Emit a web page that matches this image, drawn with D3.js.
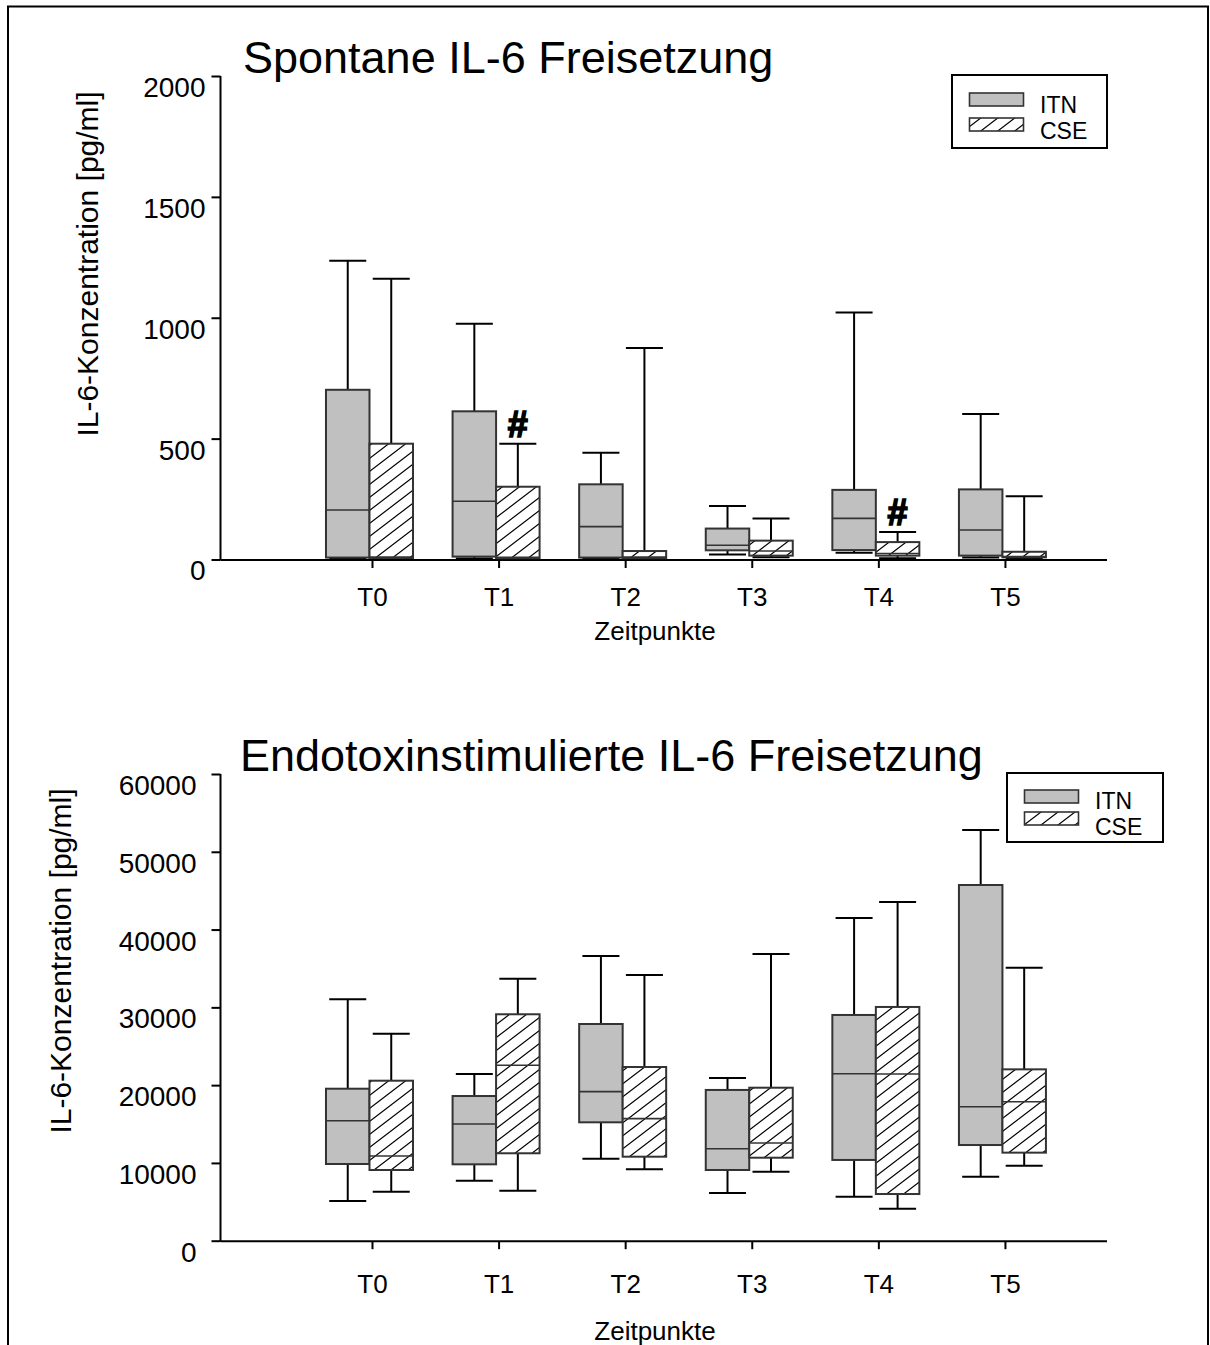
<!DOCTYPE html>
<html>
<head>
<meta charset="utf-8">
<script src="https://cdn.jsdelivr.net/npm/d3@7"></script>
<style>
  html, body { margin: 0; padding: 0; background: #fff; }
  svg text { font-family: "Liberation Sans", Arial, sans-serif; fill: #000; }
</style>
</head>
<body>
<svg id="chart" width="1210" height="1345"></svg>
<script>
// ---------------- data ----------------
const categories = ["T0", "T1", "T2", "T3", "T4", "T5"];
const seriesNames = ["ITN", "CSE"];

// each entry: [lower whisker, Q1, median, Q3, upper whisker]
const spontanITN = [
  [3, 8, 205, 702, 1236],
  [4, 12, 241, 613, 975],
  [4, 8, 136, 311, 442],
  [21, 38, 59, 128, 221],
  [28, 39, 170, 288, 1022],
  [8, 16, 122, 290, 602]
];
const spontanCSE = [
  [3, 6, 10, 479, 1161],
  [3, 5, 9, 301, 479],
  [3, 5, 10, 35, 875],
  [9, 16, 35, 78, 170],
  [5, 16, 25, 72, 114],
  [4, 9, 12, 32, 262]
];
const spontanMarks = ["", "#", "", "", "#", ""];
const spontanTicks = [0, 500, 1000, 1500, 2000];

const endoITN = [
  [5100, 9860, 15430, 19540, 31040],
  [7710, 9820, 15000, 18600, 21430],
  [10550, 15220, 19160, 27860, 36600],
  [6130, 9090, 11830, 19380, 20920],
  [5660, 10380, 21470, 29020, 41490],
  [8230, 12300, 17230, 45730, 52810]
];
const endoCSE = [
  [6300, 9090, 10890, 20570, 26610],
  [6430, 11240, 22550, 29110, 33680],
  [9180, 10800, 15690, 22330, 34160],
  [8870, 10670, 12560, 19670, 36860],
  [4120, 6000, 21430, 30050, 43550],
  [9650, 11320, 17870, 22030, 35100]
];
const endoMarks = ["", "", "", "", "", ""];
const endoTicks = [0, 10000, 20000, 30000, 40000, 50000, 60000];

const titles = ["Spontane IL-6 Freisetzung", "Endotoxinstimulierte IL-6 Freisetzung"];
const yTitle = "IL-6-Konzentration [pg/ml]";
const xTitle = "Zeitpunkte";

// ---------------- drawing ----------------
const svg = d3.select("#chart");
const FONT = '"Liberation Sans", Arial, sans-serif';

// hatch pattern
const defs = svg.append("defs");
const pat = defs.append("pattern")
  .attr("id", "hatch")
  .attr("patternUnits", "userSpaceOnUse")
  .attr("width", 17).attr("height", 13);
pat.append("rect").attr("width", 17).attr("height", 13).attr("fill", "#fff");
pat.append("path")
  .attr("d", "M0,13 L17,0 M-17,13 L0,0 M17,13 L34,0 M0,26 L17,13 M0,0 L17,-13")
  .attr("stroke", "#000").attr("stroke-width", 1.2).attr("fill", "none");

// outer frame
svg.append("rect")
  .attr("x", 8).attr("y", 6.5).attr("width", 1200).attr("height", 1400)
  .attr("fill", "none").attr("stroke", "#000").attr("stroke-width", 2);

const ITN_FILL = "#c0c0c0";
const BOX_STROKE = "#333";

function drawPanel(cfg) {
  const g = svg.append("g");
  const x = d3.scaleLinear().domain([-1.173, 5.826]).range([221, 1107]);
  const y = d3.scaleLinear().domain([0, cfg.yMax]).range([cfg.yBottom, cfg.yTop]);
  const step = x(1) - x(0);
  const bw = 43.5 / step;      // box width in domain units
  const capW = 37 / step;      // whisker cap width

  // title
  g.append("text")
    .attr("x", cfg.titleX).attr("y", cfg.titleY)
    .style("font-size", "45px")
    .text(cfg.title);

  // y axis
  const yAxis = d3.axisLeft(y).tickValues(cfg.ticks).tickSize(9).tickSizeOuter(0).tickPadding(cfg.tickPad)
    .tickFormat(d3.format("d"));
  const ya = g.append("g").attr("transform", "translate(220.5,0)").call(yAxis);
  ya.select(".domain").attr("stroke-width", 2).attr("d", `M0,${cfg.yBottom + 1}V${cfg.yTop}`);
  ya.selectAll(".tick line").attr("stroke-width", 2);
  ya.selectAll(".tick text")
    .attr("dy", "0.73em")
    .style("font-size", "28px").style("font-family", FONT);

  // x axis
  const xAxis = d3.axisBottom(x).tickValues(d3.range(categories.length)).tickSize(8).tickSizeOuter(0)
    .tickFormat(i => categories[i]);
  const xa = g.append("g").attr("transform", `translate(2.5,${cfg.yBottom + 0.5})`).call(xAxis);
  xa.select(".domain").attr("stroke-width", 2).attr("d", `M${221 - 2.5},0H${1107 - 2.5}`);
  xa.selectAll(".tick line").attr("stroke-width", 2);
  xa.selectAll(".tick text")
    .attr("y", cfg.xLabelDy).attr("dy", "0")
    .style("font-size", "26px").style("font-family", FONT);

  // axis titles
  g.append("text")
    .attr("transform", `translate(${cfg.yTitleX},${cfg.yTitleY}) rotate(-90)`)
    .attr("text-anchor", "middle")
    .style("font-size", "30px")
    .text(yTitle);
  g.append("text")
    .attr("x", 655).attr("y", cfg.xTitleY)
    .attr("text-anchor", "middle")
    .style("font-size", "26px")
    .text(xTitle);

  // boxes
  const series = [
    { name: seriesNames[0], data: cfg.itn, off: -bw, fill: ITN_FILL },
    { name: seriesNames[1], data: cfg.cse, off: 0, fill: "url(#hatch)" }
  ];
  series.forEach(s => {
    const sg = g.append("g");
    s.data.forEach((d, i) => {
      const [lo, q1, med, q3, hi] = d;
      const x0 = x(i + s.off), x1 = x(i + s.off + bw);
      const xc = x(i + s.off + bw / 2);
      // whiskers
      sg.append("line").attr("x1", xc).attr("x2", xc).attr("y1", y(q3)).attr("y2", y(hi))
        .attr("stroke", "#000").attr("stroke-width", 2);
      sg.append("line").attr("x1", xc).attr("x2", xc).attr("y1", y(q1)).attr("y2", y(lo))
        .attr("stroke", "#000").attr("stroke-width", 2);
      sg.append("line").attr("x1", x(i + s.off + bw / 2 - capW / 2)).attr("x2", x(i + s.off + bw / 2 + capW / 2))
        .attr("y1", y(hi)).attr("y2", y(hi)).attr("stroke", "#000").attr("stroke-width", 2);
      sg.append("line").attr("x1", x(i + s.off + bw / 2 - capW / 2)).attr("x2", x(i + s.off + bw / 2 + capW / 2))
        .attr("y1", y(lo)).attr("y2", y(lo)).attr("stroke", "#000").attr("stroke-width", 2);
      // box
      sg.append("rect")
        .attr("x", x0).attr("y", y(q3)).attr("width", x1 - x0).attr("height", y(q1) - y(q3))
        .attr("fill", s.fill).attr("stroke", BOX_STROKE).attr("stroke-width", 2);
      // median
      sg.append("line").attr("x1", x0).attr("x2", x1).attr("y1", y(med)).attr("y2", y(med))
        .attr("stroke", BOX_STROKE).attr("stroke-width", 1.6);
    });
  });

  // significance marks
  cfg.marks.forEach((m, i) => {
    if (!m) return;
    g.append("text")
      .attr("x", x(i + bw / 2)).attr("y", y(cfg.cse[i][4]) - 7)
      .attr("text-anchor", "middle")
      .style("font-size", "36px").style("font-weight", "bold")
      .style("stroke", "#000").style("stroke-width", "1.6px")
      .text(m);
  });

  // legend
  const L = cfg.legend;
  const lg = g.append("g").attr("transform", `translate(${L.x},${L.y})`);
  lg.append("rect").attr("x", 0).attr("y", 0).attr("width", L.w).attr("height", L.h)
    .attr("fill", "#fff").attr("stroke", "#000").attr("stroke-width", 2);
  [ITN_FILL, "url(#hatch)"].forEach((f, k) => {
    lg.append("rect").attr("x", 17.5).attr("y", L.sw[k]).attr("width", 54).attr("height", 13)
      .attr("fill", f).attr("stroke", BOX_STROKE).attr("stroke-width", 1.6);
    lg.append("text").attr("x", 88).attr("y", L.ty[k])
      .style("font-size", "23px").text(seriesNames[k]);
  });
}

drawPanel({
  title: titles[0], titleX: 243, titleY: 73,
  yMax: 2000, yTop: 76, yBottom: 559.5, ticks: spontanTicks, tickPad: 6,
  itn: spontanITN, cse: spontanCSE, marks: spontanMarks,
  xLabelDy: 46, xTitleY: 640, yTitleX: 98, yTitleY: 264,
  legend: { x: 952, y: 75, w: 155, h: 73, sw: [18, 43], ty: [38, 64] }
});
drawPanel({
  title: titles[1], titleX: 240, titleY: 771,
  yMax: 60000, yTop: 774, yBottom: 1240.7, ticks: endoTicks, tickPad: 15,
  itn: endoITN, cse: endoCSE, marks: endoMarks,
  xLabelDy: 52, xTitleY: 1340, yTitleX: 71, yTitleY: 961,
  legend: { x: 1007, y: 773, w: 156, h: 69, sw: [17, 39], ty: [36, 62] }
});
</script>
</body>
</html>
